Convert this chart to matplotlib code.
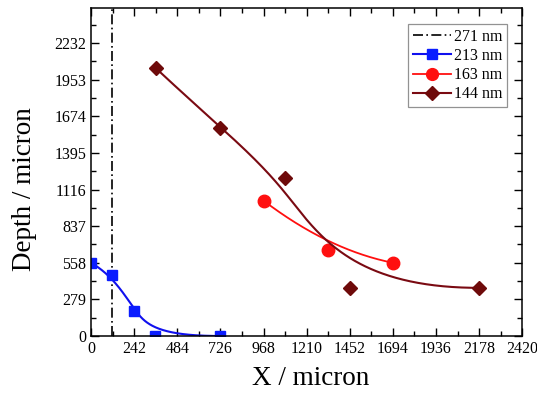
import numpy as np
import matplotlib
matplotlib.use("Agg")
import matplotlib.pyplot as plt
from matplotlib.ticker import MultipleLocator, FixedLocator

plt.rcParams['font.family'] = ['Liberation Serif', 'DejaVu Serif']
plt.rcParams['mathtext.fontset'] = 'stix'

# Series data (X / micron, Depth / micron)
cut_271_x = 120.0

x_213 = [0, 118, 242, 360, 726]
y_213 = [558, 466, 191, 0, 0]

x_163 = [968, 1331, 1694]
y_163 = [1032, 657, 558]

x_144 = [364, 726, 1089, 1452, 2178]
y_144 = [2041, 1582, 1208, 367, 367]

x_ticks = [0, 242, 484, 726, 968, 1210, 1452, 1694, 1936, 2178, 2420]
y_ticks = [0, 279, 558, 837, 1116, 1395, 1674, 1953, 2232]


def bspline(xs, ys, n=300):
    """Clamped uniform B-spline using the data points as control points."""
    P = np.column_stack([xs, ys]).astype(float)
    m = len(P)
    k = min(3, m - 1)
    inner = np.linspace(0, 1, m - k + 1)
    knots = np.concatenate([np.zeros(k), inner, np.ones(k)])
    ts = np.linspace(0, 1, n)
    out = []
    for t in ts:
        if t >= 1.0:
            s = m - 1
        else:
            s = np.searchsorted(knots, t, side='right') - 1
        d = [P[j + s - k].copy() for j in range(k + 1)]
        for r in range(1, k + 1):
            for j in range(k, r - 1, -1):
                i = j + s - k
                den = knots[i + k + 1 - r] - knots[i]
                a = 0.0 if den == 0 else (t - knots[i]) / den
                d[j] = (1 - a) * d[j - 1] + a * d[j]
        out.append(d[k])
    out = np.array(out)
    return out[:, 0], out[:, 1]


fig = plt.figure(figsize=(5.37, 4.0), dpi=100)
ax = fig.add_axes([0.1695, 0.16, 0.803, 0.82])

dashdot = (0, (6, 2, 1, 2))
ax.axvline(cut_271_x, color='black', lw=1.2, ls=dashdot)

c213 = '#1010ee'
c163 = '#ff0f0f'
c144 = '#7a0a12'
m213 = '#0a1cff'
m163 = '#ff1010'
m144 = '#6e0a0a'

bx, by = bspline(x_213, y_213)
ax.plot(bx, by, color=c213, lw=1.5)
ax.plot(x_213, y_213, ls='none', marker='s', ms=7, color=m213)

rx, ry = bspline(x_163, y_163)
ax.plot(rx, ry, color=c163, lw=1.3)
ax.plot(x_163, y_163, ls='none', marker='o', ms=9, color=m163)

dx, dy = bspline(x_144, y_144)
ax.plot(dx, dy, color=c144, lw=1.5)
ax.plot(x_144, y_144, ls='none', marker='D', ms=7.5, color=m144)

# legend entries
h271 = plt.Line2D([], [], color='black', lw=1.2, ls=dashdot)
h213 = plt.Line2D([], [], color=c213, lw=1.5, marker='s', ms=7, mfc=m213, mec=m213)
h163 = plt.Line2D([], [], color=c163, lw=1.3, marker='o', ms=8.5, mfc=m163, mec=m163)
h144 = plt.Line2D([], [], color=c144, lw=1.5, marker='D', ms=7, mfc=m144, mec=m144)
leg = ax.legend([h271, h213, h163, h144], ['271 nm', '213 nm', '163 nm', '144 nm'],
                loc='upper right', bbox_to_anchor=(0.965, 0.951), fontsize=11.5,
                frameon=True, fancybox=False, handlelength=2.4, handletextpad=0.15,
                labelspacing=0.2, borderpad=0.3, borderaxespad=0.0)
leg.get_frame().set_edgecolor('#777777')
leg.get_frame().set_linewidth(0.9)

ax.set_xlim(0, 2420)
ax.set_ylim(0, 2500)
ax.xaxis.set_major_locator(FixedLocator(x_ticks))
ax.xaxis.set_minor_locator(MultipleLocator(121))
ax.yaxis.set_major_locator(FixedLocator(y_ticks))
ax.yaxis.set_minor_locator(MultipleLocator(139.5))
ax.tick_params(which='both', direction='in', top=True, right=True, labelsize=11.5,
               width=1.0)
ax.tick_params(which='major', length=6)
ax.tick_params(which='minor', length=3.5)
for sp in ax.spines.values():
    sp.set_linewidth(1.1)

ax.set_xlabel('X / micron', fontsize=19.5)
ax.set_ylabel('Depth / micron', fontsize=19.5)
ax.xaxis.set_label_coords(0.51, -0.09)
ax.yaxis.set_label_coords(-0.125, 0.448)

fig.savefig('out.png', dpi=100)
